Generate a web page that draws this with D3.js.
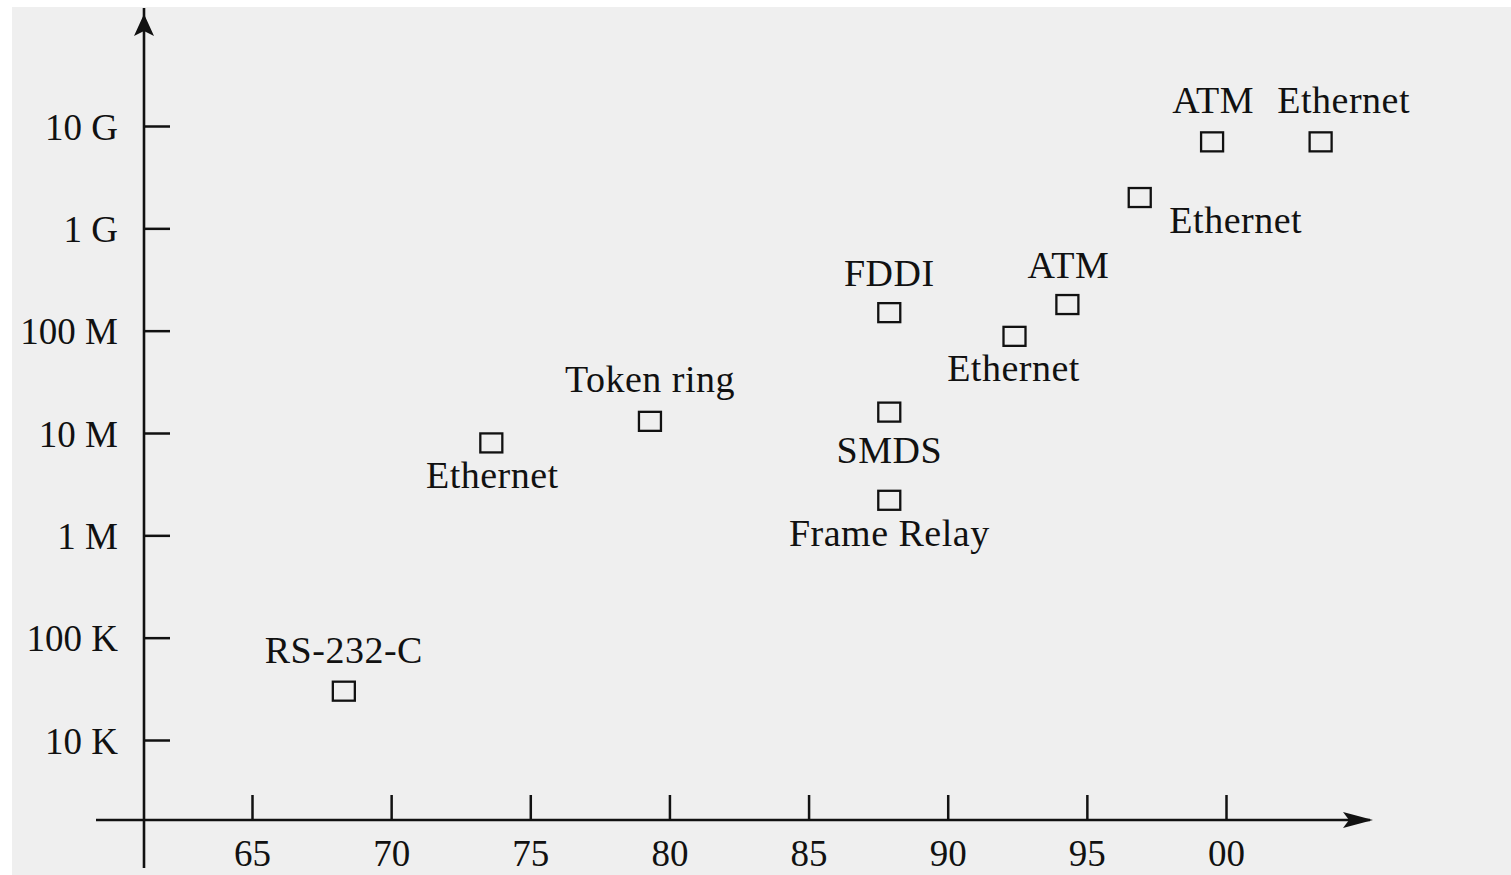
<!DOCTYPE html>
<html>
<head>
<meta charset="utf-8">
<script src="https://cdn.jsdelivr.net/npm/d3@7"></script>
<style>
  body { margin: 0; background: #fff; }
  text { font-family: "Liberation Serif", "Times New Roman", serif; fill: #111; }
</style>
</head>
<body>
<div id="chart"></div>
<script>
// network technologies: year introduced vs bit rate (bit/s)
const names = ["RS-232-C", "Ethernet", "Token ring", "FDDI", "SMDS", "Frame Relay",
               "Ethernet", "ATM", "Ethernet", "ATM", "Ethernet"];
const years = [68.3, 73.6, 79.3, 87.9, 87.9, 87.9, 92.4, 94.3, 96.9, 99.5, 103.4];
const rates = [3e4, 8e6, 1.3e7, 1.5e8, 1.6e7, 2.2e6, 8.8e7, 1.8e8, 2e9, 7e9, 7e9];

// axis ticks
const yearTicks = [65, 70, 75, 80, 85, 90, 95, 100];
const yearLabels = ["65", "70", "75", "80", "85", "90", "95", "00"];
const rateTicks = [1e4, 1e5, 1e6, 1e7, 1e8, 1e9, 1e10];
const rateLabels = ["10 K", "100 K", "1 M", "10 M", "100 M", "1 G", "10 G"];

// where each name sits relative to its square (layout only)
const labelOffsets = [[0, -28], [1, 45], [0, -29], [0, -27], [0, 51], [0, 46],
                      [-1, 45], [1, -27], [96, 35], [1, -29], [23, -29]];

const width = 1511;
const height = 875;

const svg = d3.select("#chart")
  .append("svg")
  .attr("width", width)
  .attr("height", height);

// gray page
svg.append("rect")
  .attr("x", 12).attr("y", 7)
  .attr("width", width - 12).attr("height", height - 7)
  .attr("fill", "#efefef");

const x = d3.scaleLinear().domain([65, 100]).range([252, 1226]);
const y = d3.scaleLog().domain([1e4, 1e10]).range([740, 126]);

const x0 = 144; // y axis position
const y0 = 820; // x axis position

// y axis
const yAxis = svg.append("g")
  .attr("transform", `translate(${x0},0)`)
  .call(d3.axisLeft(y)
    .tickValues(rateTicks)
    .tickFormat((d, i) => rateLabels[i])
    .tickSize(-26)
    .tickPadding(26));

// x axis
const xAxis = svg.append("g")
  .attr("transform", `translate(0,${y0})`)
  .call(d3.axisBottom(x)
    .tickValues(yearTicks)
    .tickFormat((d, i) => yearLabels[i])
    .tickSize(-25)
    .tickPadding(20));

[yAxis, xAxis].forEach(g => {
  g.select(".domain").remove();
  g.selectAll(".tick line").attr("stroke", "#111").attr("stroke-width", 2.5);
  g.selectAll(".tick text")
    .style("font-size", "37px")
    .attr("fill", "#111");
});
yAxis.selectAll(".tick text").attr("dy", "0.36em");

// axis lines with arrows
svg.append("line")
  .attr("x1", x0).attr("y1", 868).attr("x2", x0).attr("y2", 8)
  .attr("stroke", "#111").attr("stroke-width", 2.6);
svg.append("line")
  .attr("x1", 96).attr("y1", y0).attr("x2", 1370).attr("y2", y0)
  .attr("stroke", "#111").attr("stroke-width", 2.6);

svg.append("path")
  .attr("d", `M${x0},14 L${x0 + 10},36 L${x0},31 L${x0 - 10},36 Z`)
  .attr("fill", "#111");
svg.append("path")
  .attr("d", `M1373,${y0} L1343,${y0 - 8} L1349,${y0} L1343,${y0 + 8} Z`)
  .attr("fill", "#111");

// squares
const pts = svg.append("g")
  .selectAll("g")
  .data(names.map((n, i) => ({ name: n, year: years[i], rate: rates[i], off: labelOffsets[i] })))
  .enter().append("g")
    .attr("transform", d => `translate(${x(d.year)},${y(d.rate)})`);

pts.append("rect")
  .attr("x", -11).attr("y", -9.5)
  .attr("width", 22).attr("height", 19)
  .attr("fill", "none")
  .attr("stroke", "#111")
  .attr("stroke-width", 2.3);

pts.append("text")
  .attr("x", d => d.off[0])
  .attr("y", d => d.off[1])
  .attr("text-anchor", "middle")
  .style("font-size", "38px")
  .style("letter-spacing", "0.5px")
  .text(d => d.name);
</script>
</body>
</html>
